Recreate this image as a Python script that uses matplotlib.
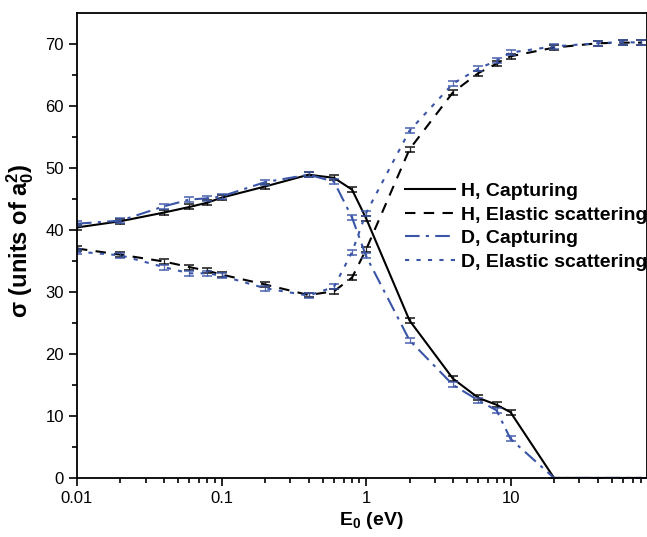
import numpy as np
import matplotlib
matplotlib.use('Agg')
from matplotlib import pyplot as plt
from matplotlib.ticker import FixedLocator, NullFormatter

plt.rcParams['font.family'] = ['Liberation Sans', 'DejaVu Sans']
plt.rcParams['mathtext.fontset'] = 'custom'
plt.rcParams['mathtext.rm'] = 'Liberation Sans:bold'
plt.rcParams['mathtext.it'] = 'Liberation Sans:bold'
plt.rcParams['mathtext.bf'] = 'Liberation Sans:bold'

# energies (eV)
E = [0.01, 0.02, 0.04, 0.06, 0.08, 0.1, 0.2, 0.4, 0.6, 0.8, 1, 2, 4, 6, 8, 10, 20, 40, 60, 80]

h_cap = [40.4, 41.4, 42.8, 43.7, 44.4, 45.2, 47.0, 48.9, 48.4, 46.5, 41.9, 25.4, 16.0, 12.9, 11.8, 10.6, 0, 0, 0, 0]
h_ela = [37.0, 36.0, 34.9, 34.0, 33.4, 32.8, 31.2, 29.5, 30.1, 32.3, 36.8, 53.0, 62.2, 65.3, 66.8, 68.0, 69.4, 70.1, 70.2, 70.2]
d_cap = [41.0, 41.5, 43.8, 44.9, 45.1, 45.4, 47.7, 48.9, 47.8, 42.0, 35.8, 22.2, 15.0, 12.5, 10.9, 6.3, 0, 0, 0, 0]
d_ela = [36.5, 35.9, 34.0, 33.0, 33.0, 32.6, 30.6, 29.4, 30.8, 36.4, 42.7, 56.0, 63.6, 66.0, 67.3, 68.6, 69.6, 70.1, 70.3, 70.2]

h_err = [0.4] * 16 + [0, 0, 0, 0]
h_err_el = [0.4] * 20
d_err = [0.4] * 16 + [0, 0, 0, 0]
d_err_el = [0.4] * 20

labels = ['H, Capturing', 'H, Elastic scattering', 'D, Capturing', 'D, Elastic scattering']
xticks = [0.01, 0.1, 1, 10]
xticklabels = ['0.01', '0.1', '1', '10']

blue = '#3a55a8'
fig = plt.figure(figsize=(6.47, 5.37), dpi=100)
ax = fig.add_axes([0.119, 0.110, 0.881, 0.866])

series = [
    (h_cap, h_err, 'black', '-', labels[0]),
    (h_ela, h_err_el, 'black', (0, (5, 4)), labels[1]),
    (d_cap, d_err, blue, (0, (7, 3, 1.5, 3)), labels[2]),
    (d_ela, d_err_el, blue, (0, (2, 3.5)), labels[3]),
]
lines = []
for y, err, col, ls, lab in series:
    ax.errorbar(E, y, yerr=err, fmt='none', ecolor=col, elinewidth=0.9,
                capsize=3.5, capthick=1.2, alpha=0.85)
    ln, = ax.plot(E, y, color=col, linestyle=ls, lw=1.5, label=lab)
    lines.append(ln)

ax.set_xscale('log')
ax.set_xlim(0.01, 88)
ax.set_ylim(0, 75)
ax.xaxis.set_major_locator(FixedLocator(xticks))
ax.set_xticklabels(xticklabels)
ax.xaxis.set_minor_formatter(NullFormatter())
ax.set_yticks(np.arange(0, 71, 10))
ax.set_yticks(np.arange(5, 75, 10), minor=True)

ax.tick_params(which='both', direction='out', top=False, right=False, width=1.2, labelsize=12)
ax.tick_params(which='major', length=6)
ax.tick_params(which='minor', length=3.5)
for sp in ax.spines.values():
    sp.set_linewidth(1.3)

ax.set_xlabel(r'E$_0$ (eV)', fontsize=14, fontweight='bold')
ax.set_ylabel(r'σ (units of a$_0^2$)', fontsize=17, fontweight='bold')
ax.xaxis.set_label_coords(0.516, -0.068)
ax.yaxis.set_label_coords(-0.072, 0.51)

leg = ax.legend(handles=lines, loc='upper left', bbox_to_anchor=(0.575, 0.635),
                frameon=False, fontsize=14, handlelength=2.6, handletextpad=0.3,
                labelspacing=0.3, borderaxespad=0, borderpad=0)
for t in leg.get_texts():
    t.set_fontweight('bold')

fig.savefig('out.png', dpi=100)
